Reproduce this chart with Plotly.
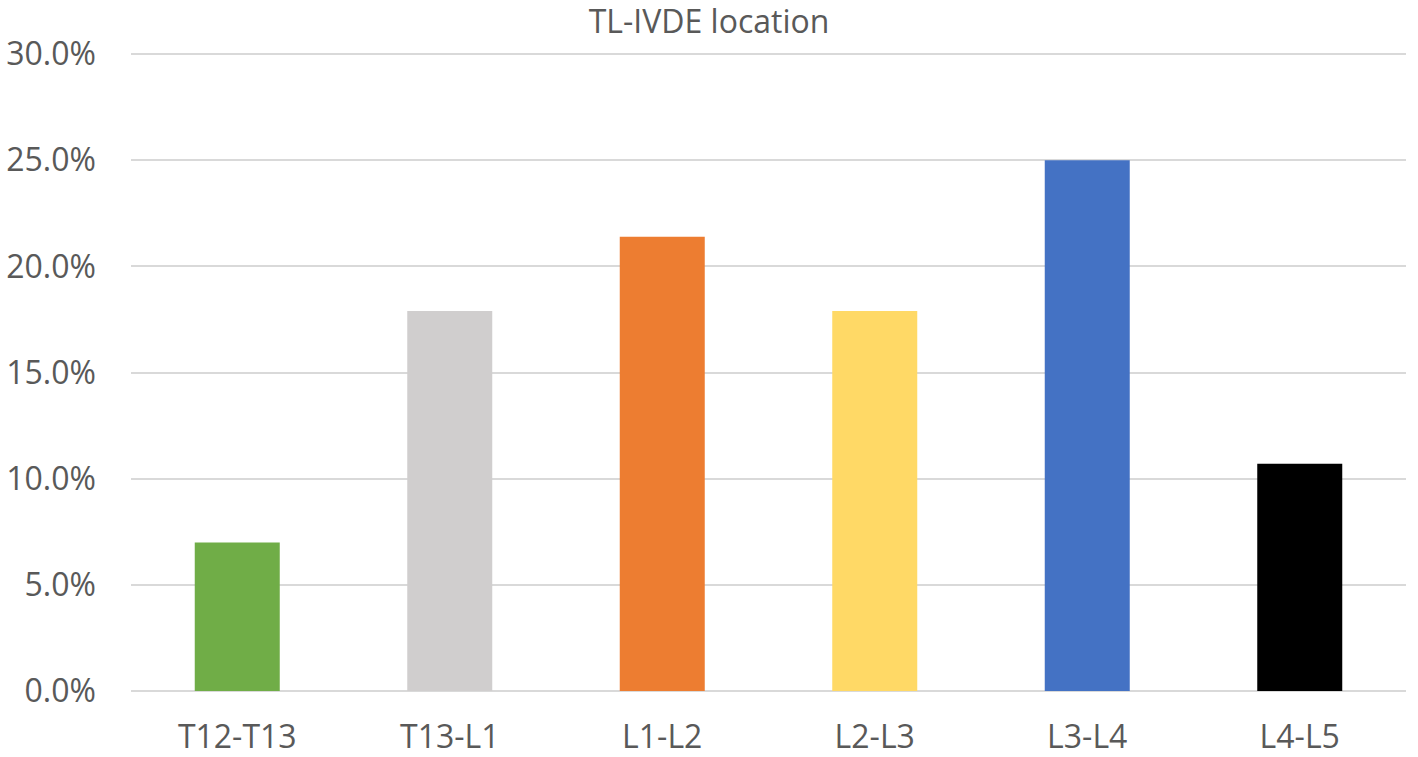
import plotly.graph_objects as go

categories = ["T12-T13", "T13-L1", "L1-L2", "L2-L3", "L3-L4", "L4-L5"]
values = [7.0, 17.9, 21.4, 17.9, 25.0, 10.7]
colors = ["#70AD47", "#D0CECE", "#ED7D31", "#FFD966", "#4472C4", "#000000"]
y_ticks = [0, 5, 10, 15, 20, 25, 30]

FONT = "Open Sans"
TEXT = "#595959"

fig = go.Figure()
fig.add_trace(go.Bar(
    x=categories,
    y=values,
    marker=dict(color=colors, line=dict(width=0)),
    showlegend=False,
))

fig.update_layout(
    width=1418,
    height=757,
    paper_bgcolor="white",
    plot_bgcolor="white",
    margin=dict(l=131, r=12, t=53, b=66, autoexpand=False),
    bargap=0.6,
    font=dict(family=FONT, color=TEXT),
    title=dict(
        text="TL-IVDE location",
        x=0.5,
        xanchor="center",
        y=1 - 22 / 757,
        yanchor="middle",
        yref="container",
        font=dict(family=FONT, size=32, color=TEXT),
    ),
)

fig.update_xaxes(
    automargin=False,
    showgrid=False,
    showline=False,
    ticks="",
    tickfont=dict(family=FONT, size=32, color=TEXT),
    ticklabelstandoff=24,
)

fig.update_yaxes(
    automargin=False,
    range=[0, 30.05],
    tickvals=y_ticks,
    ticktext=[f"{v:.1f}%" for v in y_ticks],
    showgrid=True,
    gridcolor="#D9D9D9",
    gridwidth=2,
    zeroline=True,
    zerolinecolor="#D9D9D9",
    zerolinewidth=2,
    showline=False,
    ticks="",
    tickfont=dict(family=FONT, size=32, color=TEXT),
    ticklabelstandoff=34,
)

# page body has a default margin, which pushes the fixed-size figure off screen
fig.write_html(
    "out.html",
    config={"displayModeBar": False},
    post_script="document.body.style.margin='0';document.body.style.overflow='hidden';",
)
